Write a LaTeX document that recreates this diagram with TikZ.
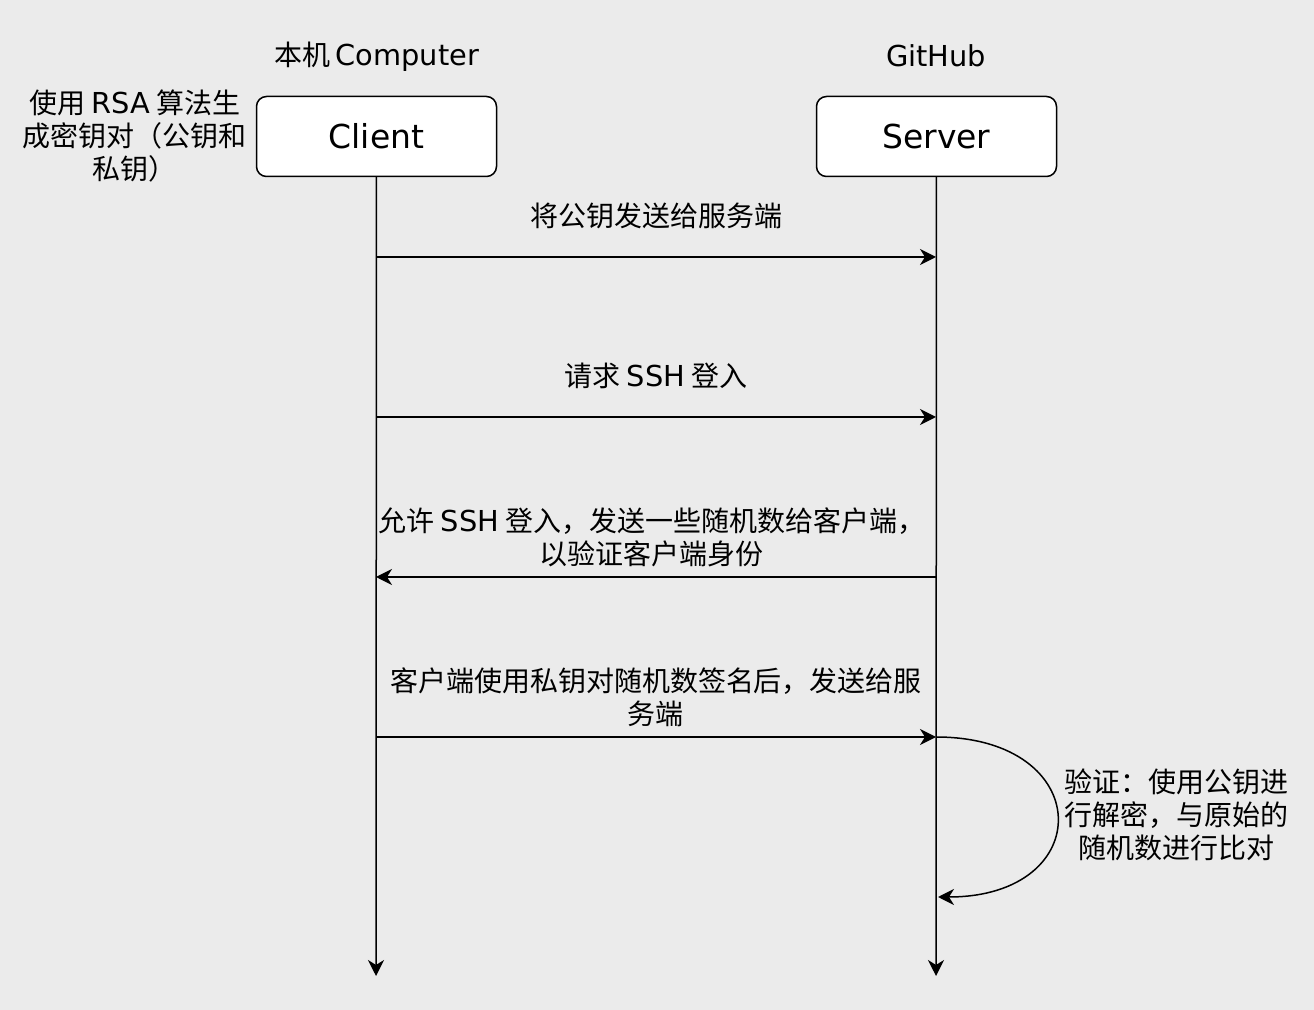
\documentclass[tikz,border=0pt]{standalone}
\usepackage{fontspec}
\setmainfont{DejaVu Sans}
\newfontfamily\cjk{Noto Sans CJK SC}
\newfontfamily\lat[Scale=1.03]{DejaVu Sans}
\usetikzlibrary{arrows.meta}
\definecolor{canvas}{HTML}{EBEBEB}

\tikzset{
  actor/.style={draw, line width=0.75pt, rounded corners=5pt, fill=white,
    minimum width=120pt, minimum height=40pt, inner sep=0pt,
    font=\lat\fontsize{16pt}{19pt}\selectfont},
  msg/.style={font=\cjk\fontsize{14pt}{16.5pt}\selectfont, align=center, inner sep=0pt},
  link/.style={line width=0.75pt, -{Stealth[length=8pt,width=8pt,inset=2.5pt]}},
}

\begin{document}
\begin{tikzpicture}[x=0.5pt,y=-0.5pt]
\fill[canvas] (0,0) rectangle (1314,1010);

% participants
\node[msg] (pc) at (377,57) {本机\,{\lat Computer}};
\node[msg] (gh) at (936,56) {{\lat GitHub}};
\node[actor] (client) at (376.5,136.5) {Client};
\node[actor] (server) at (936.5,136.5) {Server};
\node[msg] (keygen) at (135,136) {使用 {\lat RSA} 算法生\\成密钥对（公钥和\\私钥）};

% lifelines
\coordinate (cend) at (376,976);
\coordinate (send) at (936,976);
\draw[link] (client) -- (cend);
\draw[link] (server) -- (send);

\foreach \i/\y in {1/257,2/417,3/577,4/737}
{
  \coordinate (c\i) at (376,\y);
  \coordinate (s\i) at (936,\y);
}
\coordinate (s5) at (938,897);

% messages
\draw[link] (c1) -- (s1);
\node[msg] (m1) at (656,216) {将公钥发送给服务端};
\draw[link] (c2) -- (s2);
\node[msg] (m2) at (656,376) {请求 {\lat SSH} 登入};
\draw[link] (s3) -- (c3);
\node[msg] (m3) at (652,537) {允许 {\lat SSH} 登入，发送一些随机数给客户端，\\以验证客户端身份};
\draw[link] (c4) -- (s4);
\node[msg] (m4) at (656,697) {客户端使用私钥对随机数签名后，发送给服\\务端};

% self check
\draw[link] (s4) .. controls +(160,0) and +(160,0) .. (s5);
\node[msg] (verify) at (1176,815) {验证：使用公钥进\\行解密，与原始的\\随机数进行比对};
\end{tikzpicture}
\end{document}
